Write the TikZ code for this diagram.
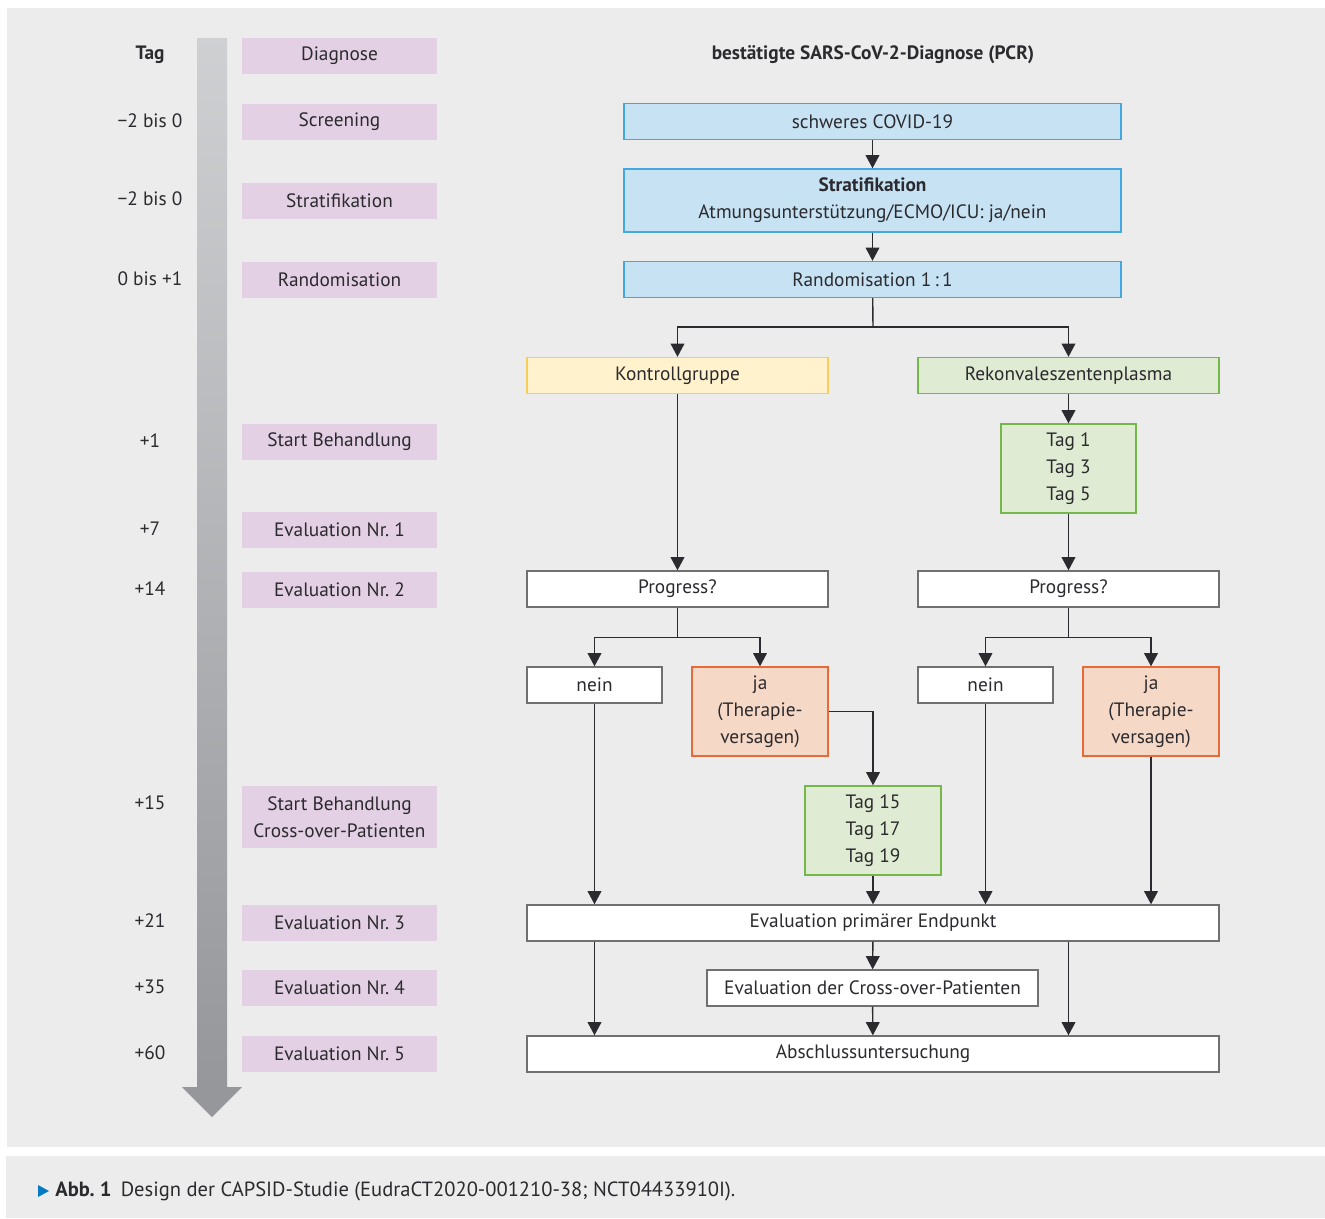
\documentclass[tikz,border=0pt]{standalone}
\usepackage{fontspec}
\setmainfont{PT Sans}
\usetikzlibrary{arrows.meta}
\usetikzlibrary{positioning}
\definecolor{mback}{rgb}{0.92, 0.925, 0.92}
\definecolor{mtext}{rgb}{0.17, 0.165, 0.18}
\definecolor{mpink}{rgb}{0.894, 0.816, 0.894}
\definecolor{mbluef}{rgb}{0.776, 0.886, 0.953}
\definecolor{mblued}{rgb}{0.255, 0.659, 0.878}
\definecolor{myellf}{rgb}{1, 0.95, 0.8}
\definecolor{myelld}{rgb}{0.969, 0.808, 0.353}
\definecolor{mgreenf}{rgb}{0.875, 0.922, 0.824}
\definecolor{mgreend}{rgb}{0.455, 0.722, 0.29}
\definecolor{msalf}{rgb}{0.965, 0.847, 0.776}
\definecolor{msald}{rgb}{0.902, 0.416, 0.227}
\definecolor{mgrey}{rgb}{0.44, 0.44, 0.44}
\definecolor{mbartop}{rgb}{0.81, 0.815, 0.824}
\definecolor{mbarbot}{rgb}{0.588, 0.592, 0.604}
\definecolor{mcap}{rgb}{0, 0.478, 0.765}
\tikzset{pfeil/.style = {-{Triangle[length=7.5pt, width=7.8pt]}, line width=0.8pt, draw=mtext}}
\tikzset{kasten/.style = {draw, line width=0.8pt, inner sep=0, minimum height=0.72cm,
                          align=center, text=mtext}}
\tikzset{weiss/.style = {kasten, fill=white, draw=mgrey}}
\tikzset{blau/.style = {kasten, fill=mbluef, draw=mblued, minimum width=9.94cm}}
\tikzset{phase/.style = {fill=mpink, inner sep=0, minimum width=3.9cm, minimum height=0.72cm,
                         align=center, text=mtext}}
\tikzset{tagnr/.style = {text=mtext}}

\begin{document}
\begin{tikzpicture}[x=0.02cm, y=-0.02cm, font=\fontsize{11}{15.3}\selectfont]
      \useasboundingbox (0, 0) rectangle (1325, 1218);
      \fill [mback] (7, 8) rectangle (1325, 1147);
      \fill [mback] (6, 1156) rectangle (1325, 1218);

      % Zeitachse
      \shade [top color=mbartop, bottom color=mbarbot] (197, 38) rectangle (227, 1087);
      \fill [mbarbot] (182, 1087) -- (242, 1087) -- (212, 1117) -- cycle;

      \node [tagnr, font=\fontsize{11}{15.3}\selectfont\bfseries] (t0) at (150, 55) {Tag};
      \node [tagnr] (t1) at (150, 121) {−2 bis 0};
      \node [tagnr] (t2) at (150, 199) {−2 bis 0};
      \node [tagnr] (t3) at (150, 279) {0 bis +1};
      \node [tagnr] (t4) at (150, 441) {+1};
      \node [tagnr] (t5) at (150, 529) {+7};
      \node [tagnr] (t6) at (150, 589) {+14};
      \node [tagnr] (t7) at (150, 803) {+15};
      \node [tagnr] (t8) at (150, 921) {+21};
      \node [tagnr] (t9) at (150, 987) {+35};
      \node [tagnr] (t10) at (150, 1053) {+60};

      \node [phase] (p0) at (339.5, 56) {Diagnose};
      \node [phase] (p1) at (339.5, 122) {Screening};
      \node [phase] (p2) at (339.5, 201) {Stratifikation};
      \node [phase] (p3) at (339.5, 280) {Randomisation};
      \node [phase] (p4) at (339.5, 442) {Start Behandlung};
      \node [phase] (p5) at (339.5, 530) {Evaluation Nr.~1};
      \node [phase] (p6) at (339.5, 590) {Evaluation Nr.~2};
      \node [phase, minimum height=1.24cm] (p7) at (339.5, 817) {Start Behandlung\\Cross-over-Patienten};
      \node [phase] (p8) at (339.5, 923) {Evaluation Nr.~3};
      \node [phase] (p9) at (339.5, 988) {Evaluation Nr.~4};
      \node [phase] (p10) at (339.5, 1054) {Evaluation Nr.~5};

      % Ablauf
      \node [text=mtext, font=\fontsize{11}{15.3}\selectfont\bfseries] (kopf) at (873, 55)
            {bestätigte SARS-CoV-2-Diagnose (PCR)};
      \node [blau] (covid) at (872.5, 121.5) {schweres COVID-19};
      \node [blau, minimum height=1.26cm] (strat) at (872.5, 200.5)
            {\textbf{Stratifikation}\\Atmungsunterstützung/ECMO/ICU: ja/nein};
      \node [blau] (rand) at (872.5, 279.5) {Randomisation 1\,:\,1};

      \node [kasten, fill=myellf, draw=myelld, minimum width=6.02cm] (kontr) at (677.5, 375.5) {Kontrollgruppe};
      \node [kasten, fill=mgreenf, draw=mgreend, minimum width=6.02cm] (rekon) at (1068.5, 375.5) {Rekonvaleszentenplasma};
      \node [kasten, fill=mgreenf, draw=mgreend, minimum width=2.7cm, minimum height=1.78cm] (tage1)
            at (1068.5, 468.5) {Tag 1\\Tag 3\\Tag 5};

      \node [weiss, minimum width=6.02cm] (progL) at (677.5, 589) {Progress?};
      \node [weiss, minimum width=6.02cm] (progR) at (1068.5, 589) {Progress?};

      \node [weiss, minimum width=2.7cm] (neinL) at (594.5, 685) {nein};
      \node [kasten, fill=msalf, draw=msald, minimum width=2.72cm, minimum height=1.78cm] (jaL)
            at (760, 711.5) {ja\\(Therapie-\\versagen)};
      \node [weiss, minimum width=2.7cm] (neinR) at (985.5, 685) {nein};
      \node [kasten, fill=msalf, draw=msald, minimum width=2.72cm, minimum height=1.78cm] (jaR)
            at (1151, 711.5) {ja\\(Therapie-\\versagen)};

      \node [kasten, fill=mgreenf, draw=mgreend, minimum width=2.72cm, minimum height=1.78cm] (tage15)
            at (873, 830.5) {Tag 15\\Tag 17\\Tag 19};

      \node [weiss, minimum width=13.84cm] (evalP) at (873, 923) {Evaluation primärer Endpunkt};
      \node [weiss, minimum width=6.62cm] (cross) at (872.5, 988) {Evaluation der Cross-over-Patienten};
      \node [weiss, minimum width=13.84cm] (absch) at (873, 1054) {Abschlussuntersuchung};

      \coordinate (split) at (873, 327);
      \draw [pfeil] (covid) -- (strat);
      \draw [pfeil] (strat) -- (rand);
      \draw [line width=0.8pt, mtext] (rand) -- (split);
      \draw [pfeil] (split) -| (kontr);
      \draw [pfeil] (split) -| (rekon);
      \draw [pfeil] (rekon) -- (tage1);
      \draw [pfeil] (tage1) -- (progR);
      \draw [pfeil] (kontr) -- (progL);

      \draw [pfeil] (progL.south) -- ++(0, 30) -| (neinL);
      \draw [pfeil] (progL.south) -- ++(0, 30) -| (jaL);
      \draw [pfeil] (progR.south) -- ++(0, 30) -| (neinR);
      \draw [pfeil] (progR.south) -- ++(0, 30) -| (jaR);

      \draw [pfeil] (jaL.east) -| (tage15);
      \draw [pfeil] (neinL) -- (neinL |- evalP.north);
      \draw [pfeil] (tage15) -- (evalP);
      \draw [pfeil] (neinR) -- (neinR |- evalP.north);
      \draw [pfeil] (jaR) -- (jaR |- evalP.north);

      \draw [pfeil] (evalP) -- (cross);
      \draw [pfeil] (cross) -- (absch);
      \draw [pfeil] (neinL |- evalP.south) -- (neinL |- absch.north);
      \draw [pfeil] (rekon |- evalP.south) -- (rekon |- absch.north);

      % Legende
      \fill [mcap] (38, 1185) -- (49, 1191) -- (38, 1197) -- cycle;
      \node [anchor=west, text=mtext, inner sep=0, font=\fontsize{11.7}{14}\selectfont] (legende) at (55, 1191)
            {\textbf{Abb.~1}\hspace{0.45em}Design der CAPSID-Studie (EudraCT2020-001210-38; NCT04433910I).};
    \end{tikzpicture}
\end{document}
